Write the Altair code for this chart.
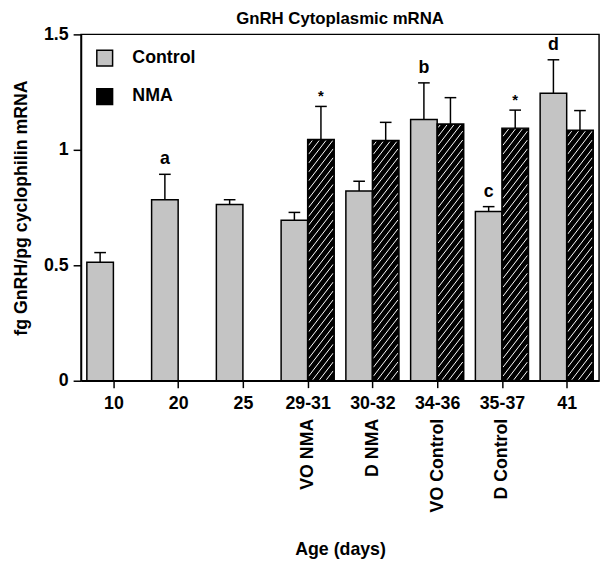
import json
import pandas as pd
import altair as alt

# ---------------- data ----------------
categories = ["10", "20", "25", "29-31", "30-32", "34-36", "35-37", "41"]
sublabels = ["", "", "", "VO NMA", "D NMA", "VO Control", "D Control", ""]
groups = ["Control", "NMA"]
control_mean = [0.513, 0.784, 0.763, 0.695, 0.822, 1.131, 0.733, 1.245]
control_sem = [0.042, 0.110, 0.021, 0.034, 0.042, 0.159, 0.021, 0.145]
nma_mean = [None, None, None, 1.045, 1.040, 1.112, 1.094, 1.085]
nma_sem = [None, None, None, 0.143, 0.079, 0.114, 0.078, 0.085]
control_marks = ["", "a", "", "", "", "b", "c", "d"]
nma_marks = ["", "", "", "*", "", "", "*", ""]

# ---------------- layout / style ----------------
FONT = "Liberation Sans"
W, H = 525, 351
BAR_W = 0.41
CAP = 0.09
PX_X = W / 8.0
PX_Y = H / 1.5
fill_colors = ["#c4c4c4", "#000000"]

rows = []
for i, c in enumerate(categories):
    for g, means, sems, marks, side in [
        ("Control", control_mean, control_sem, control_marks, -1),
        ("NMA", nma_mean, nma_sem, nma_marks, 1),
    ]:
        m = means[i]
        if m is None:
            continue
        xl = i - BAR_W if side < 0 else i
        xr = i if side < 0 else i + BAR_W
        xc = (xl + xr) / 2
        rows.append(dict(cat=c, idx=i, group=g, mean=m, top=m + sems[i],
                         xl=xl, xr=xr, xc=xc, cl=xc - CAP, cr=xc + CAP,
                         mark=marks[i], zero=0.0))
df = pd.DataFrame(rows)

# hatch segments (white diagonals) inside the NMA bars, derived from bar values
hatch = []
SLOPE = 1.3
STEP = 9.0
for r in rows:
    if r["group"] != "NMA":
        continue
    w = BAR_W * PX_X - 2
    h = r["mean"] * PX_Y - 2
    b = -w * SLOPE
    while b < h:
        x0 = max(0.0, -b / SLOPE)
        x1 = min(w, (h - b) / SLOPE)
        if x1 > x0 + 1:
            hatch.append(dict(
                xl=r["xl"] + (x0 + 1) / PX_X, mean=(b + SLOPE * x0 + 1) / PX_Y,
                hx2=r["xl"] + (x1 + 1) / PX_X, hy2=(b + SLOPE * x1 + 1) / PX_Y))
        b += STEP
hdf = pd.DataFrame(hatch)

cat_df = pd.DataFrame(dict(idx=list(range(len(categories)))))

xscale = alt.Scale(domain=[-0.5, len(categories) - 0.5], nice=False, zero=False)
yscale = alt.Scale(domain=[0, 1.5], nice=False)

label_expr = json.dumps(categories) + "[datum.value]"
sub_expr = json.dumps(sublabels) + "[datum.value]"

x_axis = alt.Axis(values=list(range(len(categories))), labelExpr=label_expr,
                  title=None, orient="bottom", tickSize=7, tickWidth=1.5,
                  tickColor="black", domainColor="black", domainWidth=1.5,
                  labelPadding=7, labelFont=FONT, labelFontSize=18,
                  labelFontWeight="bold", labelColor="black", grid=False)
y_axis = alt.Axis(values=[0, 0.5, 1, 1.5], format=".1~f", tickSize=8,
                  tickWidth=1.5, tickColor="black", domainColor="black",
                  domainWidth=1.5, labelPadding=5, labelFont=FONT,
                  labelFontSize=18, labelFontWeight="bold", labelColor="black",
                  grid=False, title="fg GnRH/pg cyclophilin mRNA",
                  titleFont=FONT, titleFontSize=18, titleFontWeight="bold",
                  titleColor="black", titlePadding=13)

X = lambda f: alt.X(f, type="quantitative", scale=xscale, axis=x_axis)
Y = lambda f: alt.Y(f, type="quantitative", scale=yscale, axis=y_axis)

base = alt.Chart(df)

bars = base.mark_rect(strokeWidth=0).encode(
    x=X("xl"), x2="xr:Q", y=Y("mean"), y2="zero:Q",
    color=alt.Color("group:N", scale=alt.Scale(domain=groups, range=fill_colors),
                    legend=alt.Legend(orient="none", legendX=15, legendY=15,
                                      title=None, symbolType="square",
                                      symbolSize=256, symbolStrokeColor="black",
                                      symbolStrokeWidth=1.5, symbolOpacity=1,
                                      labelFont=FONT, labelFontSize=18,
                                      labelFontWeight="bold", labelColor="black",
                                      labelOffset=19, rowPadding=17, padding=0)),
)

hatch_layer = alt.Chart(hdf).mark_rule(color="white", strokeWidth=1).encode(
    x=X("xl"), x2="hx2:Q", y=Y("mean"), y2="hy2:Q",
)

outline = base.mark_rect(fill=None, stroke="black", strokeWidth=1.5).encode(
    x=X("xl"), x2="xr:Q", y=Y("mean"), y2="zero:Q",
)

stems = base.mark_rule(color="black", strokeWidth=1.5).encode(
    x=X("xc"), y=Y("mean"), y2="top:Q",
)

caps = base.mark_rule(color="black", strokeWidth=1.5).encode(
    x=X("cl"), x2="cr:Q", y=Y("top"),
)

letters = base.transform_filter("datum.mark != '' && datum.mark != '*'").mark_text(
    font=FONT, fontSize=18, fontWeight="bold", color="black",
    baseline="bottom", dy=-6).encode(
    x=X("xc"), y=Y("top"), text="mark:N",
)

stars = base.transform_filter("datum.mark == '*'").mark_text(
    font=FONT, fontSize=15, fontWeight="bold", color="black",
    baseline="bottom", dy=-2).encode(
    x=X("xc"), y=Y("top"), text="mark:N",
)

sub_axis = alt.Axis(values=list(range(len(categories))), labelExpr=sub_expr,
                    orient="bottom", labelAngle=270, labelAlign="right",
                    labelBaseline="middle", ticks=False, domain=False,
                    grid=False, offset=30, labelPadding=8, labelFont=FONT,
                    labelFontSize=18, labelFontWeight="bold", labelColor="black",
                    title="Age (days)", titleFont=FONT, titleFontSize=18,
                    titleFontWeight="bold", titleColor="black",
                    titleBaseline="middle", titleY=141)

sub_layer = alt.Chart(cat_df).mark_point(opacity=0).encode(
    x=alt.X("idx:Q", scale=xscale, axis=sub_axis),
)

main = alt.layer(bars, hatch_layer, outline, stems, caps, letters, stars)

chart = alt.layer(main, sub_layer).resolve_axis(x="independent").properties(
    width=W, height=H,
    autosize=alt.AutoSizeParams(type="none"),
    padding={"left": 74, "top": 23, "right": 5, "bottom": 183},
    background="white",
    title=alt.Title("GnRH Cytoplasmic mRNA", font=FONT, fontSize=17,
                    fontWeight="bold", color="black", anchor="middle",
                    offset=1, dy=3),
).configure_view(stroke="black", strokeWidth=1.5)

chart.save("out.html", embed_options={"renderer": "svg", "actions": False})
